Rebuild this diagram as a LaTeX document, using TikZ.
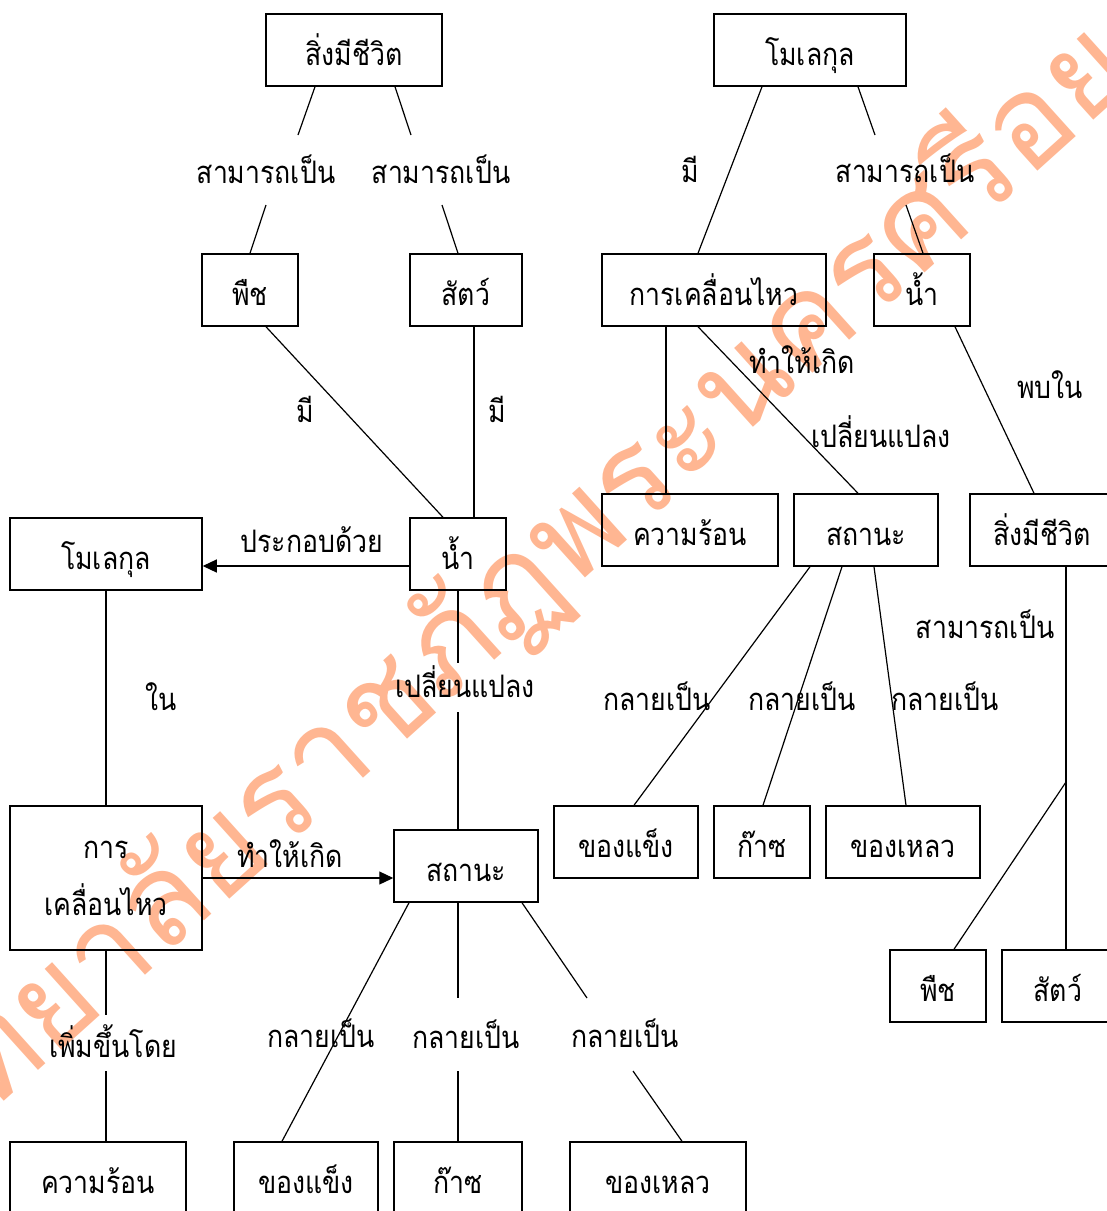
\documentclass[tikz,border=0pt]{standalone}
\usepackage{fontspec}
\newfontfamily\thai[Script=Thai,FakeStretch=0.86]{Loma}
\newfontfamily\thaimark[Script=Thai]{Loma}
\usetikzlibrary{arrows.meta}
\definecolor{wmorange}{RGB}{255,182,146}

\begin{document}
\begin{tikzpicture}[x=1pt,y=-1pt,
  txt/.style={font=\thai\fontsize{31}{36}\selectfont, inner sep=0pt, text height=30pt, text depth=0pt},
  box/.style={txt, draw, line width=1.5pt, minimum height=72pt},
  lbl/.style={font=\thai\fontsize{31}{36}\selectfont, inner sep=0pt, anchor=base},
  link/.style={line width=1.2pt},
  arr/.style={link, -{Triangle[length=14pt,width=13pt]}},
  wmtext/.style={font=\thaimark\fontsize{128}{136}\selectfont, text=wmorange, rotate=42, inner sep=0pt},
]
\useasboundingbox (0,0) rectangle (1107,1211);
\clip (0,0) rectangle (1107,1211);

% watermark behind the map
\node[wmtext, anchor=base east] (wm1) at (445,705) {มหาวิทยาลัยราช};
\node[wmtext, anchor=base west] (wm2) at (445,705) {ภัฏพระนครศรีอยุธยา};

% ---------- left map ----------
\node[box, minimum width=176pt] (A1) at (354,50) {สิ่งมีชีวิต};
\node[box, minimum width=96pt]  (A2) at (250,290) {พืช};
\node[box, minimum width=112pt] (A3) at (466,290) {สัตว์};
\node[box, minimum width=96pt]  (A4) at (458,554) {น้ำ};
\node[box, minimum width=192pt] (A5) at (106,554) {โมเลกุล};
\node[box, minimum width=192pt, minimum height=144pt, align=center, text height=, text depth=,
      font=\thai\fontsize{31}{57}\selectfont] (A6) at (106,878) {การ\\เคลื่อนไหว};
\node[box, minimum width=144pt] (A7) at (466,866) {สถานะ};
\node[box, minimum width=176pt] (A8) at (98,1178) {ความร้อน};
\node[box, minimum width=144pt] (A9) at (306,1178) {ของแข็ง};
\node[box, minimum width=128pt] (A10) at (458,1178) {ก๊าซ};
\node[box, minimum width=176pt] (A11) at (658,1178) {ของเหลว};

\node[lbl] (la1) at (266,183) {สามารถเป็น};
\node[lbl] (la2) at (441,183) {สามารถเป็น};
\node[lbl] (la3) at (305,422) {มี};
\node[lbl] (la4) at (497,422) {มี};
\node[lbl] (la5) at (312,552) {ประกอบด้วย};
\node[lbl] (la6) at (161,710) {ใน};
\node[lbl] (la7) at (465,697) {เปลี่ยนแปลง};
\node[lbl] (la8) at (290,867) {ทำให้เกิด};
\node[lbl] (la9) at (113,1057) {เพิ่มขึ้นโดย};
\node[lbl] (la10) at (321,1047) {กลายเป็น};
\node[lbl] (la11) at (466,1048) {กลายเป็น};
\node[lbl] (la12) at (625,1047) {กลายเป็น};

% gap ends around labels
\coordinate (g1a) at (298,135); \coordinate (g1b) at (266,205);
\coordinate (g2a) at (411,135); \coordinate (g2b) at (442,205);
\coordinate (g3a) at (458,663); \coordinate (g3b) at (458,712);
\coordinate (g4a) at (106,1015); \coordinate (g4b) at (106,1071);
\coordinate (g5a) at (458,998); \coordinate (g5b) at (458,1071);
\coordinate (g6a) at (587,998); \coordinate (g6b) at (633,1071);

\draw[link] ([xshift=-39pt]A1.south) -- (g1a);
\draw[link] (g1b) -- (A2.north);
\draw[link] ([xshift=41pt]A1.south) -- (g2a);
\draw[link] (g2b) -- ([xshift=-8pt]A3.north);
\draw[link] ([xshift=16pt]A2.south) -- ([xshift=-15pt]A4.north);
\draw[link] ([xshift=8pt]A3.south) -- ([xshift=16pt]A4.north);
\draw[arr] ([yshift=-12pt]A4.west) -- ([yshift=-12pt]A5.east);
\draw[link] (A5.south) -- (A6.north);
\draw[link] (A4.south) -- (g3a);
\draw[link] (g3b) -- ([xshift=-8pt]A7.north);
\draw[arr] (A6.east) -- ([yshift=-12pt]A7.west);
\draw[link] (A6.south) -- (g4a);
\draw[link] (g4b) -- ([xshift=8pt]A8.north);
\draw[link] ([xshift=-57pt]A7.south) -- ([xshift=-24pt]A9.north);
\draw[link] ([xshift=-8pt]A7.south) -- (g5a);
\draw[link] (g5b) -- (A10.north);
\draw[link] ([xshift=56pt]A7.south) -- (g6a);
\draw[link] (g6b) -- ([xshift=24pt]A11.north);

% ---------- right map ----------
\node[box, minimum width=192pt] (B1) at (810,50) {โมเลกุล};
\node[box, minimum width=224pt] (B2) at (714,290) {การเคลื่อนไหว};
\node[box, minimum width=96pt]  (B3) at (922,290) {น้ำ};
\node[box, minimum width=176pt] (B4) at (690,530) {ความร้อน};
\node[box, minimum width=144pt] (B5) at (866,530) {สถานะ};
\node[box, minimum width=144pt] (B6) at (1042,530) {สิ่งมีชีวิต};
\node[box, minimum width=144pt] (B7) at (626,842) {ของแข็ง};
\node[box, minimum width=96pt]  (B8) at (762,842) {ก๊าซ};
\node[box, minimum width=154pt] (B9) at (903,842) {ของเหลว};
\node[box, minimum width=96pt]  (B10) at (938,986) {พืช};
\node[box, minimum width=112pt] (B11) at (1058,986) {สัตว์};

\node[lbl] (lb1) at (690,182) {มี};
\node[lbl] (lb2) at (905,182) {สามารถเป็น};
\node[lbl] (lb3) at (802,373) {ทำให้เกิด};
\node[lbl] (lb4) at (881,447) {เปลี่ยนแปลง};
\node[lbl] (lb5) at (1050,398) {พบใน};
\node[lbl] (lb6) at (985,638) {สามารถเป็น};
\node[lbl] (lb7) at (657,710) {กลายเป็น};
\node[lbl] (lb8) at (802,710) {กลายเป็น};
\node[lbl] (lb9) at (945,710) {กลายเป็น};

\coordinate (h1a) at (875,135); \coordinate (h1b) at (906,205);
\coordinate (fork) at (1066,782);

\draw[link] ([xshift=-48pt]B1.south) -- ([xshift=-16pt]B2.north);
\draw[link] ([xshift=48pt]B1.south) -- (h1a);
\draw[link] (h1b) -- ([xshift=1pt]B3.north);
\draw[link] ([xshift=-48pt]B2.south) -- ([xshift=-24pt]B4.north);
\draw[link] ([xshift=-16pt]B2.south) -- ([xshift=-8pt]B5.north);
\draw[link] ([xshift=33pt]B3.south) -- ([xshift=-8pt]B6.north);
\draw[link] ([xshift=-56pt]B5.south) -- ([xshift=8pt]B7.north);
\draw[link] ([xshift=-24pt]B5.south) -- ([xshift=1pt]B8.north);
\draw[link] ([xshift=8pt]B5.south) -- ([xshift=3pt]B9.north);
\draw[link] ([xshift=24pt]B6.south) -- ([xshift=8pt]B11.north);
\draw[link] (fork) -- ([xshift=16pt]B10.north);
\end{tikzpicture}
\end{document}
